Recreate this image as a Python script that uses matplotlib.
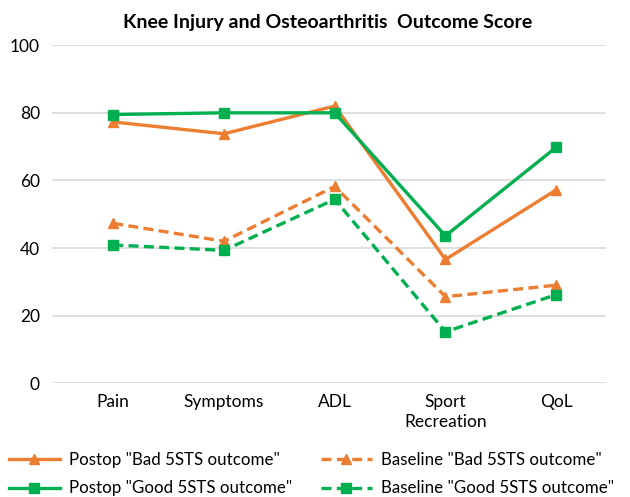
import matplotlib
matplotlib.use("Agg")
import matplotlib.pyplot as plt
import numpy as np

plt.rcParams['font.family'] = ['Lato', 'DejaVu Sans']

# --- DATA ---
categories = ["Pain", "Symptoms", "ADL", "Sport\nRecreation", "QoL"]
postop_bad = [77.3, 73.8, 82.0, 36.6, 57.2]
postop_good = [79.5, 80.0, 80.0, 43.6, 69.8]
baseline_bad = [47.3, 42.0, 58.2, 25.6, 29.0]
baseline_good = [40.9, 39.3, 54.4, 15.2, 26.2]

ORANGE = "#ED7D31"
GREEN = "#00B050"

fig = plt.figure(figsize=(6.30, 4.97), dpi=100)
ax = fig.add_axes([0.083, 0.229, 0.879, 0.680])

x = np.arange(len(categories))
lw = 2.4
ax.plot(x, postop_bad, color=ORANGE, lw=lw, marker='^', ms=7,
        label='Postop "Bad 5STS outcome"', zorder=3)
ax.plot(x, postop_good, color=GREEN, lw=lw, marker='s', ms=6.5,
        label='Postop "Good 5STS outcome"', zorder=4)
ax.plot(x, baseline_bad, color=ORANGE, lw=lw, ls=(0, (3, 1.6)), marker='^', ms=7,
        label='Baseline "Bad 5STS outcome"', zorder=3)
ax.plot(x, baseline_good, color=GREEN, lw=lw, ls=(0, (3, 1.6)), marker='s', ms=6.5,
        label='Baseline "Good 5STS outcome"', zorder=3)

ax.set_xlim(-0.55, 4.45)
ax.set_ylim(0, 100)
ax.set_yticks(np.arange(0, 101, 20))
ax.set_xticks(x)
ax.set_xticklabels(categories, fontsize=12.5, linespacing=1.25)
ax.tick_params(axis='y', labelsize=12.5, length=0, pad=9)
ax.tick_params(axis='x', length=0, pad=8)
ax.grid(axis='y', color='#D9D9D9', lw=1.2)
ax.set_axisbelow(True)
for s in ax.spines.values():
    s.set_visible(False)

fig.text(0.52, 0.955, "Knee Injury and Osteoarthritis  Outcome Score",
         ha='center', va='center', fontsize=14, fontweight='bold')

fig.legend(loc='lower left', bbox_to_anchor=(0.01, -0.004), ncol=2, frameon=False,
           fontsize=12.2, handlelength=3.0, columnspacing=1.7, labelspacing=0.75,
           handletextpad=0.55, borderpad=0.15, borderaxespad=0.0)

fig.savefig("out.png", dpi=100)
